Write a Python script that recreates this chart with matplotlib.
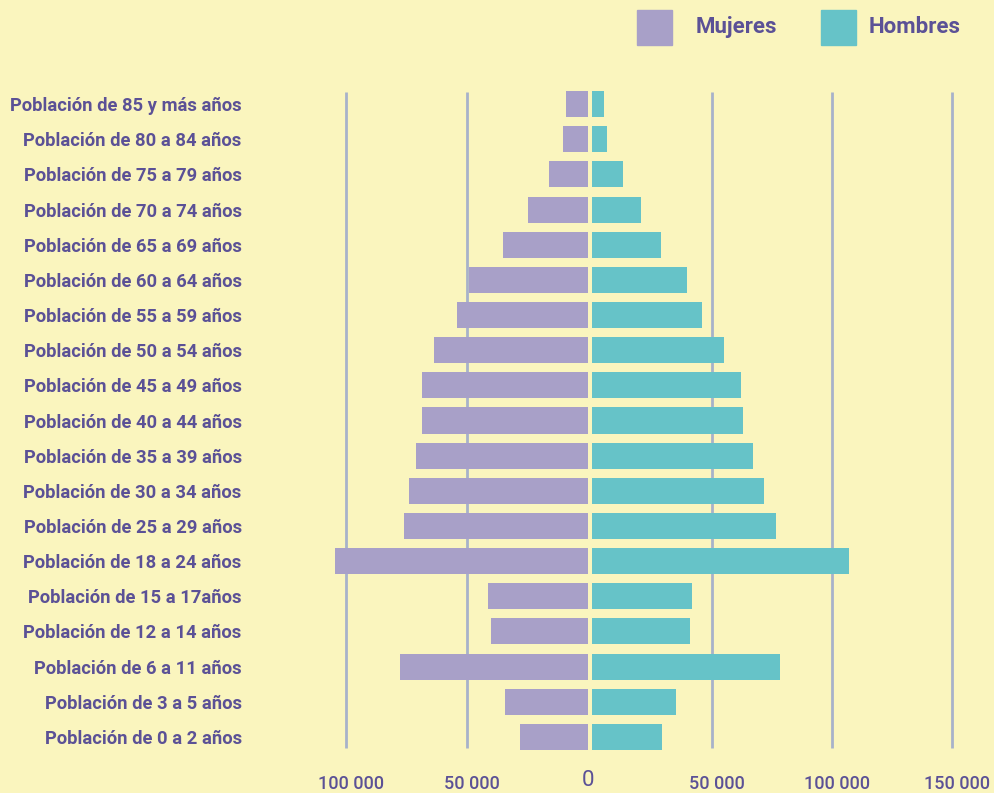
import matplotlib

matplotlib.use("Agg")
import matplotlib.pyplot as plt
import matplotlib.transforms as mtransforms
from matplotlib.patches import Rectangle

# Age groups, bottom to top
grupos = [
    "Población de 0 a 2 años",
    "Población de 3 a 5 años",
    "Población de 6 a 11 años",
    "Población de 12 a 14 años",
    "Población de 15 a 17años",
    "Población de 18 a 24 años",
    "Población de 25 a 29 años",
    "Población de 30 a 34 años",
    "Población de 35 a 39 años",
    "Población de 40 a 44 años",
    "Población de 45 a 49 años",
    "Población de 50 a 54 años",
    "Población de 55 a 59 años",
    "Población de 60 a 64 años",
    "Población de 65 a 69 años",
    "Población de 70 a 74 años",
    "Población de 75 a 79 años",
    "Población de 80 a 84 años",
    "Población de 85 y más años",
]
mujeres = [28100, 34300, 77700, 40100, 41300, 104500, 76000, 74000, 71100,
           68600, 68600, 63600, 54100, 49200, 35100, 24800, 16100, 10300, 9100]
hombres = [29200, 35000, 78300, 40800, 41700, 107100, 76700, 71700, 67100,
           62900, 62100, 55000, 45800, 39600, 28750, 20400, 12900, 6250, 5000]

ticks_izq = [100000, 50000]
ticks_der = [50000, 100000, 150000]

BG = "#faf5be"
C_MUJ = "#a8a0c8"
C_HOM = "#66c3c8"
TXT = "#5b5196"
GRID = "#a7b2ca"

W, H = 995, 793
plt.rcParams["font.family"] = ["Roboto", "DejaVu Sans"]

fig = plt.figure(figsize=(W / 100, H / 100), dpi=100, facecolor=BG)


def px(x0, y0, x1, y1):
    # pixel box (top-left origin) -> figure fraction rect
    return [x0 / W, 1 - y1 / H, (x1 - x0) / W, (y1 - y0) / H]


ax_l = fig.add_axes(px(250, 83, 588, 758))
ax_r = fig.add_axes(px(592, 83, 995, 758))
ypos = list(range(len(grupos)))

for ax in (ax_l, ax_r):
    ax.set_facecolor("none")
    for s in ax.spines.values():
        s.set_visible(False)
    ax.set_ylim(-0.6, 18.6)
    ax.tick_params(length=0)

ax_l.set_xlim(139700, 0)
ax_r.set_xlim(0, 167900)

ax_l.vlines(ticks_izq, -0.31, 18.34, color=GRID, lw=2, zorder=0)
ax_r.vlines(ticks_der, -0.31, 18.34, color=GRID, lw=2, zorder=0)

ax_l.barh(ypos, mujeres, height=0.74, color=C_MUJ, zorder=2)
ax_r.barh(ypos, hombres, height=0.74, color=C_HOM, zorder=2)

ax_l.set_yticks(ypos)
ax_l.set_yticklabels(grupos, fontsize=13.2, fontweight="bold", color=TXT)
ax_l.tick_params(axis="y", pad=6)
ax_r.set_yticks([])

ax_l.set_xticks(ticks_izq)
ax_l.set_xticklabels(["100 000", "50 000"], fontsize=13, color=TXT, fontweight="medium")
ax_r.set_xticks(ticks_der)
ax_r.set_xticklabels(["50 000", "100 000", "150 000"], fontsize=13, color=TXT,
                     fontweight="medium")
# labels sit a few pixels right of their gridlines in the original
shift = mtransforms.ScaledTranslation(5 / 100, 0, fig.dpi_scale_trans)
for ax in (ax_l, ax_r):
    ax.tick_params(axis="x", pad=12)
    for lab in ax.get_xticklabels():
        lab.set_transform(lab.get_transform() + shift)

fig.text(588 / W, 1 - 781 / H, "0", ha="center", va="center", fontsize=16,
         color=TXT)

# legend
fig.add_artist(Rectangle((637 / W, 1 - 45 / H), 35 / W, 35 / H,
                         transform=fig.transFigure, color=C_MUJ))
fig.text(696 / W, 1 - 27 / H, "Mujeres", ha="left", va="center", fontsize=16,
         fontweight="bold", color=TXT)
fig.add_artist(Rectangle((821 / W, 1 - 45 / H), 35 / W, 35 / H,
                         transform=fig.transFigure, color=C_HOM))
fig.text(869 / W, 1 - 27 / H, "Hombres", ha="left", va="center", fontsize=16,
         fontweight="bold", color=TXT)

fig.savefig("out.png", dpi=100, facecolor=BG)
